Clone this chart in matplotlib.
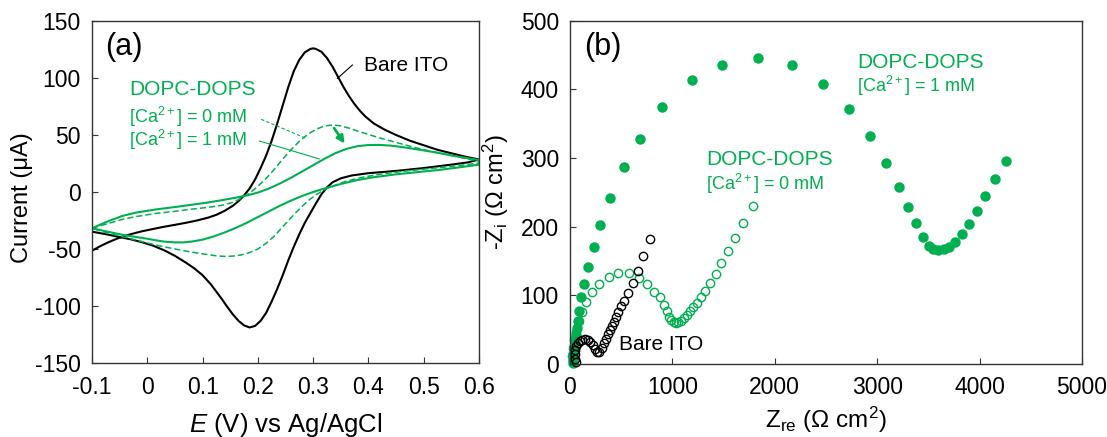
import matplotlib
matplotlib.use('Agg')
import matplotlib.pyplot as plt

plt.rcParams['font.family'] = ['Liberation Sans', 'DejaVu Sans']
plt.rcParams['mathtext.fontset'] = 'custom'
plt.rcParams['mathtext.rm'] = 'Liberation Sans'
plt.rcParams['mathtext.it'] = 'Liberation Sans:italic'
plt.rcParams['axes.unicode_minus'] = False

GREEN = '#00B050'

# ---- (a) cyclic voltammograms: E (V) vs current (uA), forward then reverse scan
bare_E = [-0.1, -0.085, -0.07, -0.05, -0.03, -0.01, 0.01, 0.03, 0.05, 0.07, 0.09, 0.11,
          0.125, 0.14, 0.155, 0.165, 0.175, 0.185, 0.195, 0.205, 0.215, 0.225, 0.235, 0.245,
          0.255, 0.265, 0.275, 0.285, 0.295, 0.3, 0.305, 0.315, 0.325, 0.335, 0.345, 0.355,
          0.365, 0.375, 0.385, 0.395, 0.41, 0.43, 0.45, 0.475, 0.5, 0.525, 0.55, 0.575, 0.6,
          0.58, 0.55, 0.5, 0.45, 0.4, 0.37, 0.35, 0.335, 0.325, 0.315, 0.305, 0.295, 0.285,
          0.275, 0.265, 0.255, 0.245, 0.235, 0.225, 0.215, 0.205, 0.195, 0.185, 0.175, 0.165,
          0.155, 0.145, 0.135, 0.125, 0.115, 0.1, 0.085, 0.07, 0.05, 0.03, 0.01, -0.01,
          -0.03, -0.05, -0.075, -0.1]
bare_I = [-51.5, -47.5, -44, -40, -37, -34.5, -32.5, -30.5, -28.8, -27, -25, -22.5,
          -20, -16.5, -12, -8, -3, 3, 11, 21, 32, 45, 60, 76,
          92, 106, 116, 122.5, 125.5, 126, 125.5, 123, 117.5, 110, 101, 92,
          84, 77, 71, 66, 60, 54.5, 50, 45, 41, 37, 34, 31, 28.5,
          26, 24, 21, 18.5, 16.5, 14.5, 12, 8.5, 4, -2, -10, -18.5, -27,
          -37, -48, -60, -73, -85, -96, -106, -113, -117.5, -118.8, -117, -113,
          -107.5, -101, -94, -87.5, -81, -73, -67, -62, -56, -51, -47, -44,
          -41.5, -39.5, -37, -34.8]

ca0_E = [-0.1, -0.07, -0.045, -0.02, 0.017, 0.05, 0.077, 0.11, 0.137, 0.155, 0.17, 0.185,
         0.2, 0.215, 0.23, 0.245, 0.26, 0.275, 0.29, 0.305, 0.32, 0.335, 0.35, 0.365, 0.38,
         0.4, 0.42, 0.45, 0.48, 0.51, 0.54, 0.57, 0.6,
         0.6, 0.57, 0.54, 0.5, 0.46, 0.42, 0.39, 0.36, 0.34, 0.32, 0.305, 0.29, 0.275, 0.26,
         0.245, 0.23, 0.215, 0.2, 0.185, 0.17, 0.155, 0.14, 0.125, 0.11, 0.09, 0.07, 0.05,
         0.02, -0.01, -0.045, -0.075, -0.1]
ca0_I = [-31.8, -27.5, -24, -21.5, -18.7, -17, -15.2, -13.5, -11.5, -9, -5.5, -1,
         5, 12, 20, 29, 37, 44.5, 50.5, 55, 57.8, 58.8, 58, 56, 53.5,
         50.5, 47.5, 43.5, 39.5, 36, 33, 30, 27,
         25.5, 23.5, 22, 20, 18, 15.5, 13, 9.5, 6, 2, -2.5, -8, -15, -22.5,
         -30.5, -38.5, -45, -50, -53.2, -55.2, -56.2, -56.5, -56, -55, -53.5, -51.8, -50,
         -47, -43.5, -39.2, -35.5, -31.8]

ca1_E = [-0.1, -0.07, -0.045, -0.02, 0.017, 0.05, 0.077, 0.11, 0.137, 0.16, 0.18, 0.2,
         0.22, 0.24, 0.26, 0.28, 0.3, 0.32, 0.34, 0.36, 0.38, 0.4, 0.42, 0.44, 0.46, 0.48,
         0.5, 0.53, 0.56, 0.6,
         0.6, 0.57, 0.53, 0.49, 0.45, 0.41, 0.38, 0.35, 0.32, 0.3, 0.28, 0.26, 0.24, 0.22,
         0.2, 0.18, 0.16, 0.14, 0.12, 0.1, 0.08, 0.065, 0.05, 0.03, 0.017, 0.0, -0.02,
         -0.045, -0.07, -0.1]
ca1_I = [-31.8, -25.5, -21, -18, -15.2, -13.2, -11.4, -9.2, -7, -5, -3, -0.5,
         3, 7.5, 12.5, 18, 23.5, 29, 34, 37.8, 40.2, 41.2, 41.3, 40.7, 39.5, 38,
         36.5, 34, 31.2, 28,
         24, 22, 19.5, 17.5, 15.5, 13, 10.5, 7, 3, 0, -3.5, -7.5, -12, -17,
         -22, -27, -31.5, -35.5, -39, -41.8, -43.5, -44.2, -44.2, -43.5, -42.5, -41, -39.5,
         -37.5, -35, -31.8]

# ---- (b) Nyquist plots: Zre, -Zi (Ohm cm2)
bare_re = [60, 50, 45, 48, 58, 75, 95, 120, 148, 176, 200, 222, 245, 265, 288, 310, 330,
           350, 370, 390, 410, 430, 450, 472, 495, 528, 570, 617, 664, 715, 781]
bare_im = [3, 8, 14, 20, 26, 30, 33, 35, 36, 35, 32, 27, 22, 17, 18, 24, 31,
           37, 43, 49, 55, 61, 68, 75, 84, 92, 103, 117.6, 136, 157, 181.5]

ca0_re = [27, 23, 31, 43, 59, 86, 117, 160, 215, 285, 379, 473, 574, 676, 754, 824, 879,
          918, 945, 969, 988, 1012, 1035, 1059, 1086, 1113, 1141, 1172, 1203, 1238, 1277,
          1320, 1371, 1422, 1477, 1539, 1609, 1691, 1785]
ca0_im = [4, 11, 23, 35, 47, 62, 75, 90.5, 104.5, 117, 127.3, 132, 132, 125.8, 116.7, 105,
          96.8, 85.2, 77.4, 69, 64.4, 60.5, 59.5, 60.5, 63, 66.8, 71.6, 76.5, 82.8, 88.6,
          96.8, 106.5, 118.6, 131.7, 146.7, 164.6, 184, 205, 230]

ca1_re = [25, 25, 30, 38, 46, 55, 65, 78, 92, 112, 138, 176, 230, 293, 395, 527, 684, 902,
          1195, 1484, 1836, 2168, 2469, 2727, 2934, 3090, 3211, 3301, 3379, 3445, 3504,
          3547, 3594, 3652, 3703, 3762, 3828, 3895, 3973, 4055, 4148, 4258]
ca1_im = [1.5, 6, 14.5, 23, 33, 42.6, 52, 63, 76.5, 96.8, 116, 141.8, 171, 202, 241, 286.5,
          328, 374, 413.8, 435.6, 445.8, 435, 408, 371, 331.6, 292.8, 257, 229, 204.7,
          185.4, 171.8, 167.5, 166, 167, 170.9, 178, 188.8, 203.3, 222.6, 244.4, 268.6,
          295.7]

ca_lbl0 = r'[Ca$^{\mathregular{2+}}$] = 0 mM'
ca_lbl1 = r'[Ca$^{\mathregular{2+}}$] = 1 mM'

fig = plt.figure(figsize=(11.07, 4.37), dpi=100)
ax1 = fig.add_axes([92 / 1107, 1 - 363 / 437, 387 / 1107, 342 / 437])
ax2 = fig.add_axes([570 / 1107, 1 - 364 / 437, 512 / 1107, 343.5 / 437])

for ax in (ax1, ax2):
    for s in ax.spines.values():
        s.set_color('#333333')
        s.set_linewidth(1.0)
    ax.tick_params(direction='in', top=False, right=False, length=4,
                   labelsize=16.5, color='#333333')
    ax.tick_params(axis='x', pad=9)
    ax.tick_params(axis='y', pad=8)

# panel (a)
ax1.plot(bare_E, bare_I, color='black', lw=1.5)
ax1.plot(ca0_E, ca0_I, color=GREEN, lw=1.1, ls=(0, (4, 2)))
ax1.plot(ca1_E, ca1_I, color=GREEN, lw=1.5)
ax1.set_xlim(-0.1, 0.6)
ax1.set_ylim(-150, 150)
ax1.set_xticks([-0.1, 0, 0.1, 0.2, 0.3, 0.4, 0.5, 0.6])
ax1.set_xticklabels(['-0.1', '0', '0.1', '0.2', '0.3', '0.4', '0.5', '0.6'])
ax1.set_yticks(range(-150, 151, 50))
ax1.set_xlabel(r'$\mathit{E}$ (V) vs Ag/AgCl', fontsize=18.5)
ax1.set_ylabel('Current (μA)', fontsize=17)
ax1.xaxis.set_label_coords(0.5, -0.14)
ax1.yaxis.set_label_coords(-0.152, 0.485)

ax1.text(-0.076, 127, '(a)', fontsize=22, ha='left', va='center')
ax1.text(0.3925, 111.4, 'Bare ITO', fontsize=15, ha='left', va='center')
ax1.plot([0.371, 0.344], [111.4, 99.7], color='black', lw=0.8)
ax1.text(-0.033, 89.8, 'DOPC-DOPS', fontsize=15, color=GREEN, ha='left', va='center')
ax1.text(-0.033, 65.5, ca_lbl0, fontsize=13, color=GREEN, ha='left', va='center')
ax1.text(-0.033, 45.5, ca_lbl1, fontsize=13, color=GREEN, ha='left', va='center')
ax1.plot([0.206, 0.287], [63.8, 47.1], color=GREEN, lw=0.8, ls=(0, (3, 2)))
ax1.plot([0.203, 0.311], [44.7, 29], color=GREEN, lw=0.8)
ax1.annotate('', xy=(0.357, 42.5), xytext=(0.338, 56),
             arrowprops=dict(arrowstyle='-|>', color=GREEN, lw=2, mutation_scale=11,
                             shrinkA=0, shrinkB=0))

# panel (b)
ax2.plot(ca1_re, ca1_im, 'o', color=GREEN, ms=6.5, mec=GREEN, clip_on=False)
ax2.plot(ca0_re, ca0_im, 'o', mfc='none', mec=GREEN, ms=6, mew=1, clip_on=False)
ax2.plot(bare_re, bare_im, 'o', mfc='none', mec='black', ms=6, mew=1, clip_on=False)
ax2.set_xlim(0, 5000)
ax2.set_ylim(0, 500)
ax2.set_xticks(range(0, 5001, 1000))
ax2.set_yticks(range(0, 501, 100))
ax2.set_xlabel(r'Z$_{\mathregular{re}}$ (Ω cm$^{\mathregular{2}}$)', fontsize=17.5)
ax2.set_ylabel(r'-Z$_{\mathregular{i}}$ (Ω cm$^{\mathregular{2}}$)', fontsize=17)
ax2.xaxis.set_label_coords(0.5, -0.119)
ax2.yaxis.set_label_coords(-0.115, 0.5)

ax2.text(140, 461, '(b)', fontsize=22, ha='left', va='center')
ax2.text(2805, 439.5, 'DOPC-DOPS', fontsize=15, color=GREEN, ha='left', va='center')
ax2.text(2805, 405, ca_lbl1, fontsize=13, color=GREEN, ha='left', va='center')
ax2.text(1333, 297, 'DOPC-DOPS', fontsize=15, color=GREEN, ha='left', va='center')
ax2.text(1333, 262, ca_lbl0, fontsize=13, color=GREEN, ha='left', va='center')
ax2.text(475, 28, 'Bare ITO', fontsize=15, ha='left', va='center')

fig.savefig('out.png', dpi=100)
